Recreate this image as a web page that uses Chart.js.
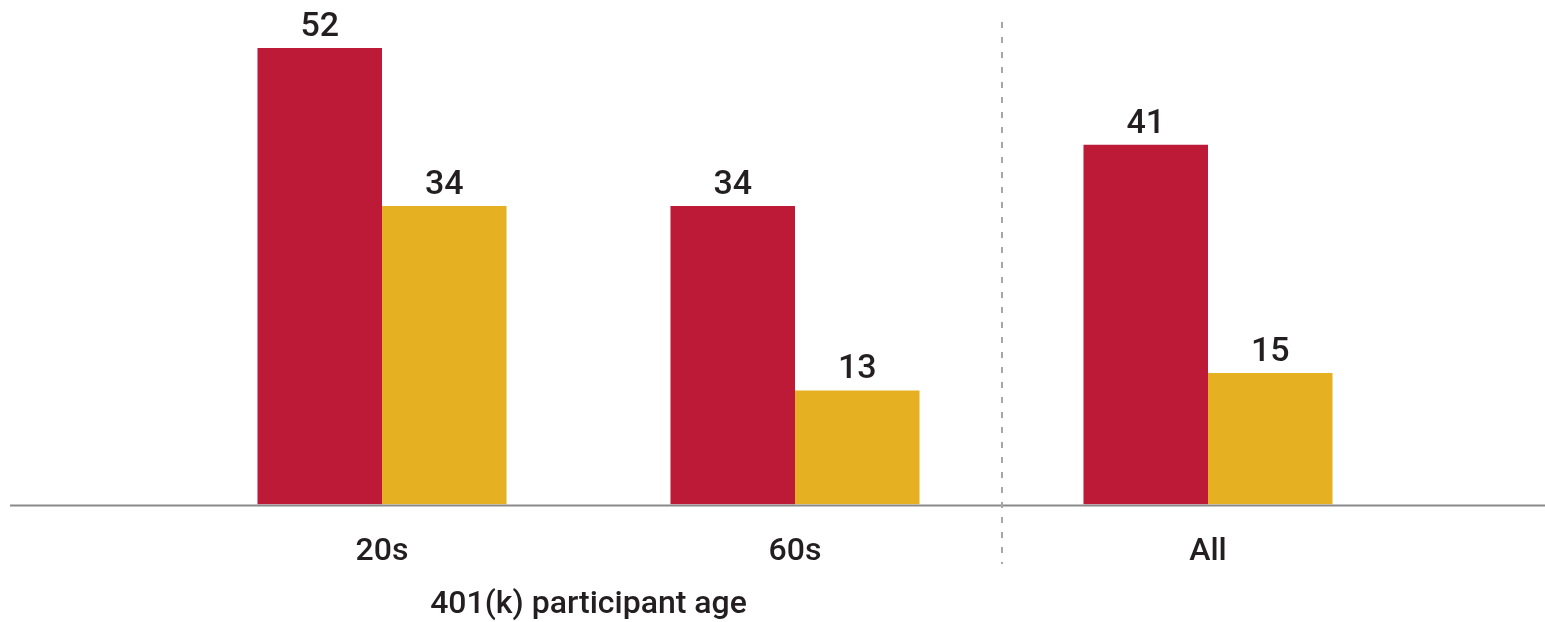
<!DOCTYPE html>
<html>
<head>
<meta charset="utf-8">
<script src="https://cdn.jsdelivr.net/npm/chart.js@4"></script>
<style>
  html, body { margin: 0; padding: 0; background: #fff; }
  #wrap { width: 1545px; height: 622px; }
</style>
</head>
<body>
<div id="wrap"><canvas id="chart"></canvas></div>
<script>
var categories = ['20s', '60s', 'All'];
var redValues = [52, 34, 41];
var yellowValues = [34, 13, 15];
var axisTitle = '401(k) participant age';

var FONT = 'Roboto, "DejaVu Sans Condensed", sans-serif';

// value labels, baseline, dashed separator and axis title
var decorations = {
    id: 'decorations',
    afterDatasetsDraw: function (chart) {
        var ctx = chart.ctx;
        var xs = chart.scales.x;
        var ys = chart.scales.y;
        var base = ys.getPixelForValue(0);

        ctx.save();
        // baseline
        ctx.strokeStyle = '#8a8a8a';
        ctx.lineWidth = 2;
        ctx.beginPath();
        ctx.moveTo(10, base + 1);
        ctx.lineTo(chart.width, base + 1);
        ctx.stroke();

        // dashed separator between 60s and All
        var sepX = Math.round((xs.getPixelForValue(1) + xs.getPixelForValue(2)) / 2);
        ctx.strokeStyle = '#a6a6a6';
        ctx.setLineDash([6, 9]);
        ctx.beginPath();
        ctx.moveTo(sepX, 22);
        ctx.lineTo(sepX, 564);
        ctx.stroke();
        ctx.setLineDash([]);

        // value labels
        ctx.fillStyle = '#231f20';
        ctx.font = '500 34px ' + FONT;
        ctx.textAlign = 'center';
        ctx.textBaseline = 'alphabetic';
        chart.data.datasets.forEach(function (ds, i) {
            chart.getDatasetMeta(i).data.forEach(function (bar, j) {
                ctx.fillText(String(ds.data[j]), bar.x, bar.y - 12);
            });
        });

        // axis title centred under the two age groups
        var titleX = (xs.getPixelForValue(0) + xs.getPixelForValue(1)) / 2;
        ctx.font = '500 32px ' + FONT;
        ctx.textBaseline = 'middle';
        ctx.fillText(axisTitle, titleX, 605);
        ctx.restore();
    }
};

new Chart(document.getElementById('chart').getContext('2d'), {
    type: 'bar',
    data: {
        labels: categories,
        datasets: [{
            data: redValues,
            backgroundColor: '#bc1a36'
        }, {
            data: yellowValues,
            backgroundColor: '#e5b022'
        }]
    },
    options: {
        responsive: true,
        maintainAspectRatio: false,
        animation: false,
        events: [],
        layout: { padding: { left: 175.5, right: 130.5, top: 20, bottom: 31 } },
        plugins: {
            legend: { display: false },
            tooltip: { enabled: false }
        },
        datasets: {
            bar: { barPercentage: 1, categoryPercentage: 0.603 }
        },
        scales: {
            x: {
                grid: { display: false },
                border: { display: false },
                ticks: {
                    color: '#231f20',
                    padding: 20,
                    font: { family: FONT, size: 32, weight: '500' }
                }
            },
            y: {
                display: false,
                min: 0,
                max: 55.2
            }
        }
    },
    plugins: [decorations]
});
</script>
</body>
</html>
